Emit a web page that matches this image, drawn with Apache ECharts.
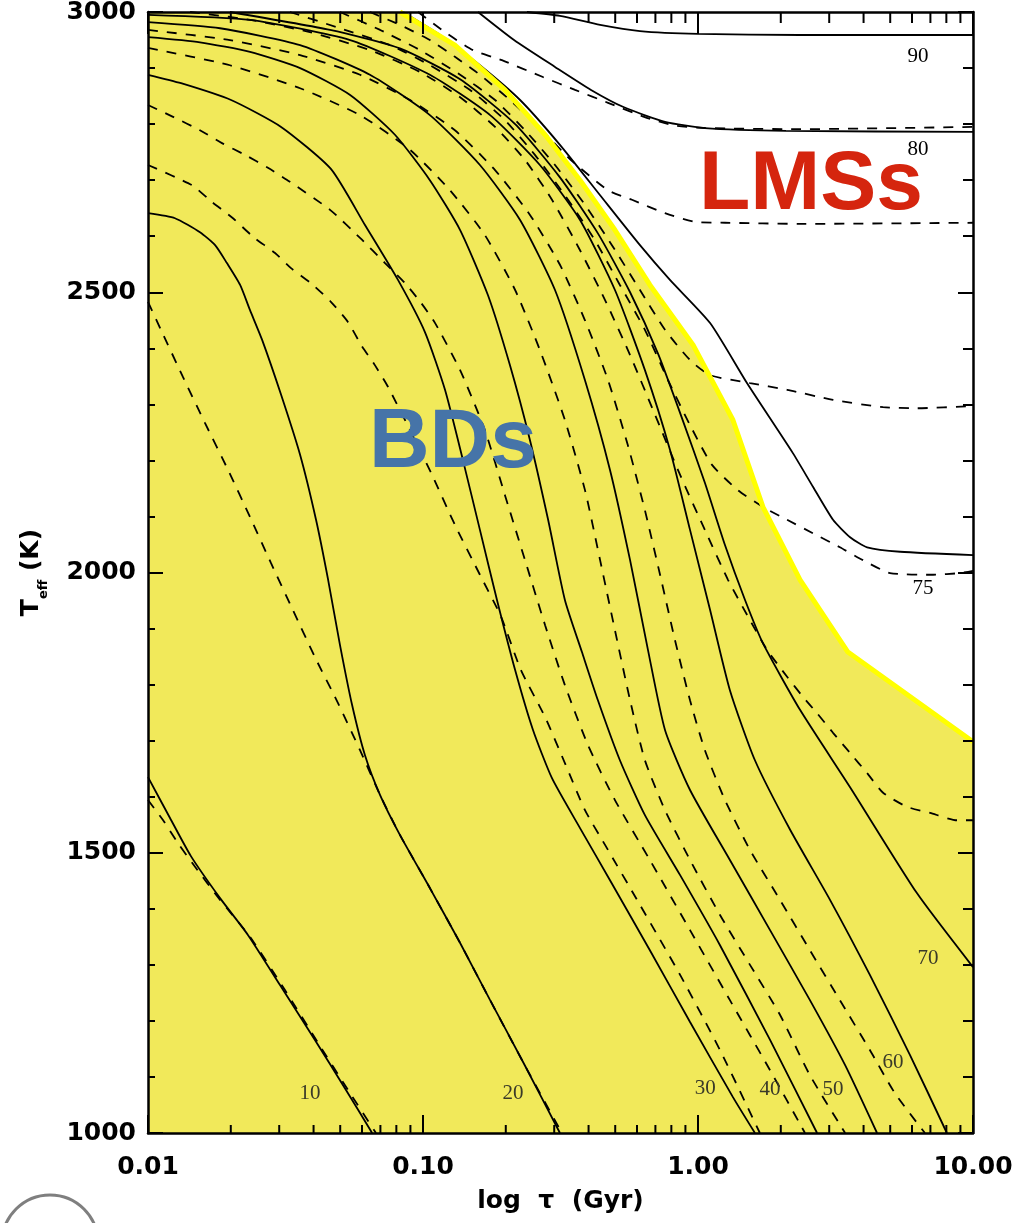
<!DOCTYPE html>
<html><head><meta charset="utf-8">
<script src="https://cdn.jsdelivr.net/npm/echarts@6/dist/echarts.min.js"></script>
<style>html,body{margin:0;padding:0;background:#fff}#chart{width:1017px;height:1223px}</style>
</head><body><div id="chart"></div>
<script>
// x values are log10(age / Gyr), y values are Teff in K
const xTickValues = [-2, -1, 0, 1];
const xTickLabels = ['0.01', '0.10', '1.00', '10.00'];
const minorTickAges = [0.02,0.03,0.04,0.05,0.06,0.07,0.08,0.09,0.2,0.3,0.4,0.5,0.6,0.7,0.8,0.9,2,3,4,5,6,7,8,9];

const solid10 = [[-2.000,1635],[-1.920,1562],[-1.844,1494],[-1.738,1419],[-1.636,1353],[-1.520,1264],[-1.393,1166],[-1.284,1080],[-1.185,1000]];
const dashed10 = [[-2.000,1594],[-1.945,1558],[-1.891,1517],[-1.829,1475],[-1.738,1416],[-1.629,1350],[-1.502,1255],[-1.382,1161],[-1.273,1077],[-1.171,1000]];
const solid20 = [[-2.000,2641],[-1.902,2632],[-1.811,2607],[-1.756,2584],[-1.713,2552],[-1.665,2513],[-1.629,2468],[-1.585,2415],[-1.516,2317],[-1.447,2210],[-1.389,2094],[-1.345,1987],[-1.302,1871],[-1.258,1764],[-1.211,1674],[-1.156,1603],[-1.084,1532],[-0.975,1437],[-0.865,1339],[-0.756,1237],[-0.629,1120],[-0.502,1000]];
const dashed20 = [[-2.000,2483],[-1.953,2433],[-1.873,2349],[-1.793,2267],[-1.709,2183],[-1.629,2099],[-1.553,2017],[-1.473,1933],[-1.393,1849],[-1.309,1767],[-1.229,1683],[-1.156,1603],[-1.084,1532],[-0.975,1437],[-0.865,1339],[-0.756,1237],[-0.629,1120],[-0.495,1000]];
const solid30 = [[-2.000,2888],[-1.880,2873],[-1.698,2843],[-1.516,2795],[-1.335,2720],[-1.211,2620],[-1.091,2522],[-0.993,2429],[-0.920,2326],[-0.855,2201],[-0.793,2076],[-0.731,1951],[-0.665,1826],[-0.600,1719],[-0.531,1633],[-0.429,1544],[-0.320,1451],[-0.175,1326],[-0.029,1198],[0.127,1064],[0.207,1000]];
const dashed30 = [[-2.000,2727],[-1.840,2691],[-1.767,2661],[-1.691,2632],[-1.618,2599],[-1.538,2570],[-1.480,2543],[-1.407,2516],[-1.335,2483],[-1.273,2447],[-1.225,2406],[-1.175,2370],[-1.127,2331],[-1.047,2254],[-0.967,2174],[-0.884,2085],[-0.793,1996],[-0.716,1921],[-0.644,1826],[-0.556,1742],[-0.484,1660],[-0.411,1576],[-0.338,1514],[-0.211,1407],[-0.065,1282],[0.080,1148],[0.225,1000]];
const solid40 = [[-2.000,2955],[-1.811,2946],[-1.629,2929],[-1.447,2900],[-1.265,2852],[-1.102,2781],[-0.975,2700],[-0.865,2611],[-0.764,2495],[-0.684,2370],[-0.611,2236],[-0.545,2094],[-0.484,1951],[-0.422,1858],[-0.364,1772],[-0.284,1665],[-0.193,1567],[-0.065,1460],[0.080,1335],[0.262,1166],[0.433,1000]];
const dashed40 = [[-2.000,2834],[-1.909,2813],[-1.811,2789],[-1.731,2766],[-1.647,2745],[-1.564,2722],[-1.484,2697],[-1.338,2647],[-1.229,2597],[-1.138,2552],[-1.065,2516],[-1.007,2481],[-0.956,2445],[-0.865,2361],[-0.775,2254],[-0.702,2138],[-0.629,2022],[-0.556,1906],[-0.484,1799],[-0.400,1692],[-0.302,1594],[-0.175,1487],[-0.029,1362],[0.116,1237],[0.262,1112],[0.389,1000]];
const solid50 = [[-2.000,2982],[-1.738,2971],[-1.447,2941],[-1.193,2888],[-0.975,2816],[-0.793,2727],[-0.647,2629],[-0.520,2504],[-0.411,2343],[-0.320,2183],[-0.247,2022],[-0.182,1862],[-0.120,1719],[-0.029,1612],[0.116,1487],[0.262,1362],[0.407,1237],[0.535,1121],[0.651,1000]];
const dashed50 = [[-2.000,2936],[-1.702,2905],[-1.447,2864],[-1.229,2816],[-1.047,2754],[-0.902,2682],[-0.775,2602],[-0.665,2504],[-0.575,2397],[-0.484,2272],[-0.411,2147],[-0.356,2022],[-0.302,1897],[-0.247,1772],[-0.193,1665],[-0.120,1576],[-0.029,1487],[0.080,1389],[0.189,1300],[0.298,1211],[0.407,1103],[0.535,1000]];
const solid60 = [[-2.000,2995],[-1.629,2986],[-1.265,2950],[-0.975,2888],[-0.756,2816],[-0.575,2727],[-0.429,2629],[-0.302,2504],[-0.193,2361],[-0.102,2219],[-0.029,2076],[0.044,1933],[0.116,1790],[0.207,1665],[0.335,1541],[0.480,1416],[0.625,1282],[0.771,1139],[0.905,1000]];
const dashed60 = [[-2.000,2968],[-1.702,2950],[-1.447,2923],[-1.229,2888],[-1.047,2843],[-0.884,2789],[-0.738,2718],[-0.611,2638],[-0.502,2549],[-0.411,2450],[-0.327,2343],[-0.255,2227],[-0.193,2111],[-0.138,1996],[-0.084,1880],[-0.029,1772],[0.025,1683],[0.098,1594],[0.189,1505],[0.298,1416],[0.407,1326],[0.516,1237],[0.625,1148],[0.716,1071],[0.825,1000]];
const solid70 = [[-1.702,3000],[-1.338,2968],[-1.084,2935],[-0.865,2880],[-0.665,2800],[-0.502,2705],[-0.364,2605],[-0.247,2500],[-0.145,2390],[-0.058,2275],[0.025,2160],[0.098,2049],[0.171,1951],[0.236,1874],[0.371,1755],[0.553,1617],[0.796,1428],[1.000,1296]];
const dashed70 = [[-1.847,3000],[-1.629,2986],[-1.411,2964],[-1.193,2932],[-1.011,2893],[-0.865,2848],[-0.738,2795],[-0.629,2736],[-0.531,2665],[-0.429,2575],[-0.338,2486],[-0.247,2388],[-0.156,2281],[-0.065,2174],[0.025,2076],[0.109,1987],[0.189,1915],[0.251,1862],[0.324,1814],[0.382,1778],[0.433,1749],[0.491,1714],[0.553,1678],[0.615,1642],[0.673,1607],[0.760,1582],[0.844,1571],[0.942,1558],[1.000,1558]];
const solid75 = [[-1.073,3000],[-0.938,2959],[-0.793,2905],[-0.647,2843],[-0.502,2763],[-0.356,2673],[-0.211,2584],[-0.102,2522],[0.044,2445],[0.178,2338],[0.345,2213],[0.418,2153],[0.491,2094],[0.553,2063],[0.615,2045],[0.735,2037],[1.000,2031]];
const dashed75 = [[-1.484,3000],[-1.302,2971],[-1.120,2941],[-0.975,2905],[-0.829,2861],[-0.702,2807],[-0.593,2745],[-0.484,2673],[-0.375,2593],[-0.284,2513],[-0.193,2433],[-0.109,2343],[-0.029,2263],[0.051,2192],[0.145,2147],[0.236,2117],[0.324,2094],[0.418,2070],[0.516,2045],[0.600,2022],[0.698,1999],[0.855,1996],[0.953,1999],[1.000,2003]];
const solid80 = [[-0.800,3000],[-0.669,2950],[-0.520,2902],[-0.389,2861],[-0.269,2830],[-0.120,2804],[0.025,2793],[0.320,2788],[1.000,2786]];
const dashed80 = [[-1.302,3000],[-1.156,2968],[-1.011,2932],[-0.865,2888],[-0.738,2843],[-0.629,2789],[-0.520,2727],[-0.411,2656],[-0.313,2584],[-0.211,2504],[-0.120,2433],[-0.029,2379],[0.044,2352],[0.189,2338],[0.324,2326],[0.491,2308],[0.673,2295],[0.796,2293],[1.000,2297]];
const dashed90 = [[-1.193,3000],[-1.084,2977],[-0.975,2950],[-0.884,2920],[-0.793,2888],[-0.684,2843],[-0.575,2793],[-0.462,2736],[-0.327,2682],[-0.240,2665],[-0.120,2641],[-0.004,2625],[0.098,2624],[0.371,2622],[1.000,2624]];
const dashed100 = [[-1.018,3000],[-0.920,2964],[-0.818,2932],[-0.713,2914],[-0.564,2884],[-0.447,2861],[-0.327,2838],[-0.196,2813],[-0.091,2798],[0.025,2793],[0.371,2791],[1.000,2795]];
const solid90 = [[-0.622,3000],[-0.502,2993],[-0.356,2977],[-0.211,2966],[0.000,2961],[0.371,2959],[1.000,2959]];

// BD / LMS dividing line
const boundary = [[-1.084,3000],[-0.884,2941],[-0.702,2861],[-0.556,2781],[-0.429,2700],[-0.302,2611],[-0.175,2513],[-0.018,2406],[0.127,2272],[0.236,2117],[0.371,1987],[0.545,1858],[1.000,1698]];
const boundaryFill = [[-2.000,3000]].concat(boundary);

const curveLabels = [[0.800,2920,'90'],[0.800,2754,'80'],[0.818,1972,'75'],[0.836,1312,'70'],[0.709,1125,'60'],[0.491,1077,'50'],[0.262,1077,'40'],[0.026,1080,'30'],[-0.673,1071,'20'],[-1.411,1071,'10']];
const curveLabelColors = ['#000','#000','#000','#3a3a28','#3a3a28','#3a3a28','#3a3a28','#3a3a28','#3a3a28','#3a3a28'];
const regionLabels = [[-0.891,2229,'BDs'],[0.411,2690,'LMSs']];
const regionColors = ['#4674a8', '#d5250e'];

const solidTracks = [solid10, solid20, solid30, solid40, solid50, solid60, solid70, solid75, solid80, solid90];
const dashedTracks = [dashed10, dashed20, dashed30, dashed40, dashed50, dashed60, dashed70, dashed75, dashed80, dashed90, dashed100];

const chart = echarts.init(document.getElementById('chart'), null, {renderer: 'canvas'});

function track(data, dashed, i) {
  return {
    name: (dashed ? 'dashed ' : 'solid ') + i,
    type: 'line', data: data, showSymbol: false, symbol: 'none',
    smooth: 0.2, silent: true, z: 3,
    lineStyle: {color: '#000', width: 1.8, type: dashed ? [10, 9] : 'solid'}
  };
}

const labelFont = 'DejaVu Sans';
const series = [];
series.push({
  name: 'BD region', type: 'line', data: boundaryFill, showSymbol: false, symbol: 'none',
  silent: true, z: 1, lineStyle: {width: 0, color: 'rgba(0,0,0,0)'},
  areaStyle: {color: '#f1e95a', opacity: 1, origin: 'start'}
});
solidTracks.forEach((d, i) => series.push(track(d, false, i)));
dashedTracks.forEach((d, i) => series.push(track(d, true, i)));
series.push({
  name: 'boundary', type: 'line', data: boundary, showSymbol: false, symbol: 'none', silent: true, z: 4,
  lineStyle: {color: '#ffff00', width: 5}
});
series.push({
  name: 'minor ticks', type: 'custom', silent: true, z: 6, clip: false,
  data: minorTickAges.map(a => [Math.log10(a), 1000]),
  encode: {x: 0, y: 1},
  renderItem: function (params, api) {
    const x = api.value(0);
    const pb = api.coord([x, 1000]);
    const pt = api.coord([x, 3000]);
    return {type: 'group', children: [
      {type: 'line', shape: {x1: pb[0], y1: pb[1], x2: pb[0], y2: pb[1] - 8}, style: {stroke: '#000', lineWidth: 2}},
      {type: 'line', shape: {x1: pt[0], y1: pt[1], x2: pt[0], y2: pt[1] + 11}, style: {stroke: '#000', lineWidth: 2}}
    ]};
  }
});
series.push({
  name: 'mass labels', type: 'scatter', silent: true, z: 7, symbolSize: 0.001,
  itemStyle: {color: 'rgba(0,0,0,0)', opacity: 1},
  data: curveLabels.map((c, i) => ({value: c, label: {color: curveLabelColors[i]}})),
  label: {show: true, position: 'inside', opacity: 1, formatter: p => p.data.value[2],
    fontFamily: 'Liberation Serif', fontSize: 21}
});
series.push({
  name: 'regions', type: 'scatter', silent: true, z: 8, symbolSize: 0.001,
  itemStyle: {color: 'rgba(0,0,0,0)', opacity: 1},
  data: regionLabels.map((r, i) => ({value: r, label: {color: regionColors[i]}})),
  label: {show: true, position: 'inside', opacity: 1, formatter: p => p.data.value[2],
    fontFamily: 'Liberation Sans', fontWeight: 'bold', fontSize: 84}
});

const axisCommon = {axisLine: {show: true, onZero: false, lineStyle: {color: '#000', width: 2.5}}, splitLine: {show: false}, z: 6};

const option = {
  animation: false,
  backgroundColor: '#fff',
  grid: {left: 148, right: 44, top: 12, bottom: 90, containLabel: false, outerBoundsMode: 'none'},
  xAxis: [
    Object.assign({}, axisCommon, {
      type: 'value', position: 'bottom', min: -2, max: 1, interval: 1,
      axisTick: {show: true, inside: true, length: 18, lineStyle: {color: '#000', width: 2}},
      axisLabel: {show: true, showMinLabel: true, showMaxLabel: true, margin: 22,
        formatter: v => { const i = xTickValues.indexOf(Math.round(v)); return i >= 0 ? xTickLabels[i] : ''; },
        fontFamily: labelFont, fontWeight: 'bold', fontSize: 25, color: '#000'},
      name: 'log  τ  (Gyr)', nameLocation: 'middle', nameGap: 56,
      nameTextStyle: {fontFamily: labelFont, fontWeight: 'bold', fontSize: 25, color: '#000'}
    }),
    Object.assign({}, axisCommon, {
      type: 'value', position: 'top', min: -2, max: 1, interval: 1,
      axisTick: {show: true, inside: true, length: 22, lineStyle: {color: '#000', width: 2}},
      axisLabel: {show: false}
    })
  ],
  yAxis: [
    Object.assign({}, axisCommon, {
      type: 'value', position: 'left', min: 1000, max: 3000, interval: 500,
      axisTick: {show: true, inside: true, length: 15, lineStyle: {color: '#000', width: 2}},
      minorTick: {show: true, splitNumber: 5, length: 7, lineStyle: {color: '#000', width: 2}},
      axisLabel: {show: true, showMinLabel: true, showMaxLabel: true, margin: 12,
        formatter: v => String(v),
        fontFamily: labelFont, fontWeight: 'bold', fontSize: 25, color: '#000'},
      name: '{t|T}{s|eff}{t| (K)}', nameLocation: 'middle', nameGap: 104, nameRotate: 90,
      nameTextStyle: {rich: {
        t: {fontFamily: labelFont, fontWeight: 'bold', fontSize: 25, color: '#000', lineHeight: 30, verticalAlign: 'bottom'},
        s: {fontFamily: labelFont, fontWeight: 'bold', fontSize: 13, color: '#000', lineHeight: 30, verticalAlign: 'bottom', padding: [0, 0, -6, 0]}
      }}
    }),
    Object.assign({}, axisCommon, {
      type: 'value', position: 'right', min: 1000, max: 3000, interval: 500,
      axisTick: {show: true, inside: true, length: 15, lineStyle: {color: '#000', width: 2}},
      minorTick: {show: true, splitNumber: 5, length: 10, lineStyle: {color: '#000', width: 2}},
      axisLabel: {show: false}
    })
  ],
  graphic: [{type: 'circle', shape: {cx: 50, cy: 1243, r: 48}, style: {fill: 'none', stroke: '#7f7f7f', lineWidth: 3}, silent: true}],
  series: series
};
chart.setOption(option);
</script></body></html>
